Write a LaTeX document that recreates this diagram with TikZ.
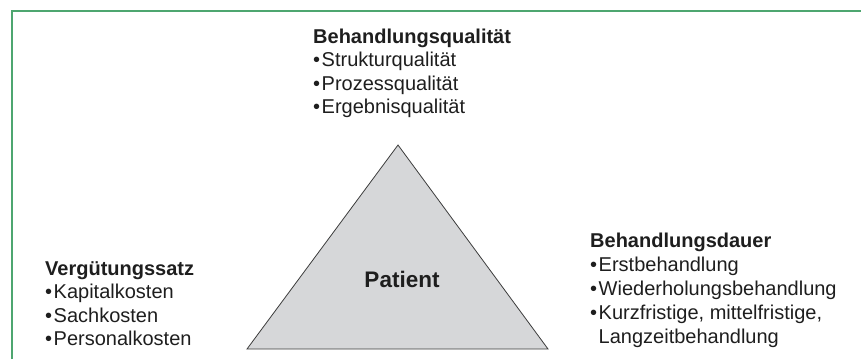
\documentclass[tikz,border=0pt]{standalone}
\usepackage{fontspec}
\setmainfont{Liberation Sans}
\definecolor{framegreen}{RGB}{78,166,112}
\definecolor{trifill}{RGB}{214,215,217}
\definecolor{triline}{RGB}{60,60,60}
\definecolor{txt}{RGB}{30,30,30}
\newcommand\blt{•\hspace{1.5pt}}
\begin{document}
\begin{tikzpicture}[x=1pt,y=-1pt,
  txtblock/.style={anchor=base west,inner sep=0pt,text=txt,font=\fontsize{20}{23.5}\selectfont},
  frameline/.style={draw=framegreen,line width=1.5pt},
  tri/.style={draw=triline,fill=trifill,line width=0.8pt,line join=miter}]
\useasboundingbox (0,0) rectangle (861,359);
\coordinate (fTL) at (12,11);
\coordinate (fTR) at (861,11);
\coordinate (fBL) at (12,359);
\draw[frameline] (fBL) -- (fTL) -- (fTR);
\coordinate (apex) at (398,145);
\coordinate (bl) at (247,349);
\coordinate (br) at (548,349);
\draw[tri] (apex) -- (br) -- (bl) -- cycle;
\node[anchor=base,inner sep=0pt,text=txt,font=\fontsize{22.5}{26}\selectfont\bfseries] (patient) at (402,287) {Patient};
\node[txtblock] (quali) at (313,43) {\vtop{\baselineskip=23.5pt
  \hbox{\bfseries Behandlungsqualität}
  \hbox{\blt Strukturqualität}
  \hbox{\blt Prozessqualität}
  \hbox{\blt Ergebnisqualität}}};
\node[txtblock] (verg) at (45,275) {\vtop{\baselineskip=23.5pt
  \hbox{\bfseries Vergütungssatz}
  \hbox{\blt Kapitalkosten}
  \hbox{\blt Sachkosten}
  \hbox{\blt Personalkosten}}};
\node[txtblock] (dauer) at (590,247) {\vtop{\baselineskip=24pt
  \hbox{\bfseries Behandlungsdauer}
  \hbox{\blt Erstbehandlung}
  \hbox{\blt Wiederholungsbehandlung}
  \hbox{\blt Kurzfristige, mittelfristige,}
  \hbox{\phantom{\blt}Langzeitbehandlung}}};
\end{tikzpicture}
\end{document}
